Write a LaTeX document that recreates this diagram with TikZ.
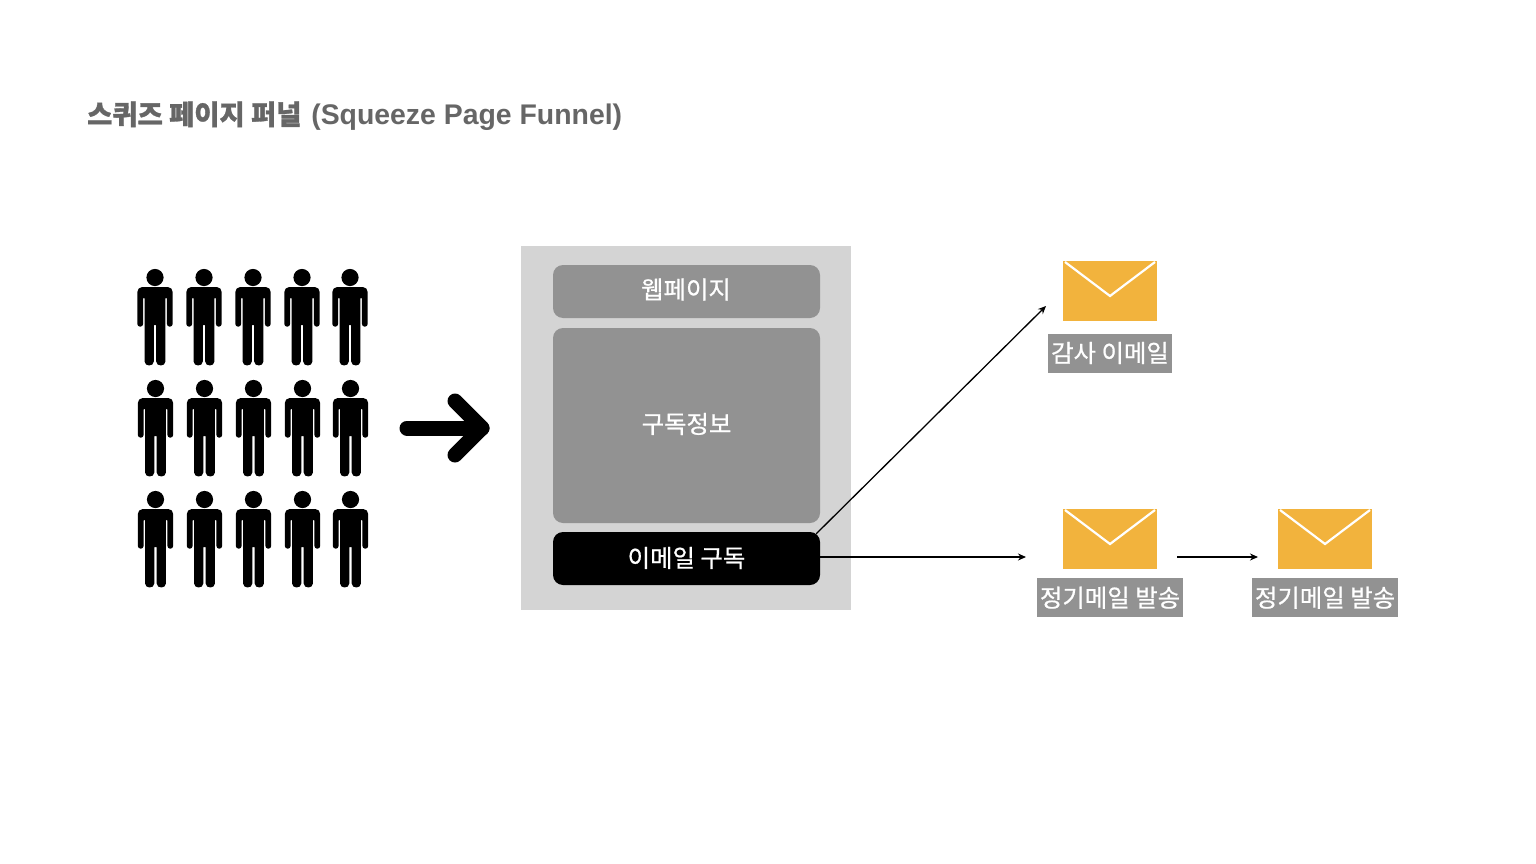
\documentclass[tikz,border=0pt]{standalone}
\usepackage{fontspec}
\setmainfont{Liberation Sans}
\newfontfamily\cjk[FakeBold = 0.7]{Noto Sans CJK KR}
\newfontfamily\cjktitle[FakeBold = 1.1]{Noto Sans CJK KR}
\usetikzlibrary{calc, arrows.meta}

\definecolor{panelgrey}{HTML}{D4D4D4}
\definecolor{boxgrey}{HTML}{929292}
\definecolor{titlegrey}{HTML}{666666}
\definecolor{mailorange}{HTML}{F2B33D}

\tikzset{
	box/.style = {rectangle, rounded corners = 10pt, minimum width = 267pt, inner sep = 0pt},
	boxtext/.style = {text = white, inner sep = 0pt, font = \cjk\fontsize{24.4}{28}\selectfont},
	mail/.style = {rectangle, fill = mailorange, minimum width = 94pt, minimum height = 60pt, inner sep = 0pt,
		path picture = {
			\draw [white, line width = 2.2pt] ($ (path picture bounding box.north west) + (2,1) $) -- ($ (path picture bounding box.north) + (0,35) $) -- ($ (path picture bounding box.north east) + (-2,1) $);
		}},
	caption/.style = {boxtext, rectangle, fill = boxgrey, minimum height = 39pt},
	thin arrow/.style = {-{Stealth[length = 8pt, width = 7pt]}, line width = 1.3pt},
	person/.pic = {
		\fill (0,0) circle [radius = 8.6];
		\fill [rounded corners = 5pt] (-17.7,9.5) -- (17.7,9.5) -- (17.7,28) [rounded corners = 2.8pt] -- (17.7,49.2) -- (11.9,49.2) [rounded corners = 0.5pt] -- (11.9,20.5) -- (10.4,20.5) [sharp corners] -- (10.4,84) .. controls (10.4,89.3) and (1.2,89.3) .. (1.2,84) -- (1.2,47.5) -- (-1.2,47.5) -- (-1.2,84) .. controls (-1.2,89.3) and (-10.4,89.3) .. (-10.4,84) [rounded corners = 0.5pt] -- (-10.4,20.5) -- (-11.9,20.5) [rounded corners = 2.8pt] -- (-11.9,49.2) -- (-17.7,49.2) [rounded corners = 5pt] -- (-17.7,28) -- cycle;
	}
}

\begin{document}
\begin{tikzpicture}[x = 1pt, y = -1pt]
	\useasboundingbox (0,0) rectangle (1536,864);
	
	\node [anchor = west, text = titlegrey, inner sep = 0pt, font = \fontsize{28.4}{32}\selectfont\bfseries] (title) at (87,116) {{\cjktitle\fontsize{27.4}{32}\selectfont 스퀴즈 페이지 퍼널}\hspace{2pt} (Squeeze Page Funnel)};
	
	% crowd
	\foreach \y/\dx in {277.5/0, 388.5/0.5, 499.5/0.5} {
		\foreach \x in {155, 204, 253, 302, 350} {
			\pic at (\x+\dx, \y) {person};
		}
	}
	
	% big arrow
	\coordinate (arrow start) at (407,428);
	\coordinate (arrow tip) at (482,428);
	\draw [line width = 15pt, line cap = round, line join = round] (arrow start) -- (arrow tip);
	\draw [line width = 15pt, line cap = round, line join = round] (455,401) -- (arrow tip) -- (455,455);
	
	% page
	\node [rectangle, fill = panelgrey, minimum width = 330.5pt, minimum height = 363.5pt, inner sep = 0pt] (page) at (686,428.2) {};
	\node [box, fill = boxgrey, minimum height = 53pt] (web) at (686.5,291.5) {};
	\node [box, fill = boxgrey, minimum height = 195pt] (info) at (686.5,425.5) {};
	\node [box, fill = black, minimum height = 53pt] (subscribe) at (686.5,558.5) {};
	\node [boxtext] (web text) at (686,289.5) {웹페이지};
	\node [boxtext] (info text) at (686.5,424) {구독정보};
	\node [boxtext] (subscribe text) at (686.5,558) {이메일 구독};
	
	% mails
	\node [mail] (thanks) at (1110,291) {};
	\node [mail] (regular) at (1110,539) {};
	\node [mail] (next) at (1325,539) {};
	
	\node [caption, minimum width = 124pt] (thanks caption) at (1110,353) {감사 이메일};
	\node [caption, minimum width = 146pt] (regular caption) at (1110,597.7) {정기메일 발송};
	\node [caption, minimum width = 146pt] (next caption) at (1325,597.7) {정기메일 발송};
	
	% connectors
	\coordinate (thanks in) at (1046,306);
	\coordinate (regular in) at (1026,557);
	\coordinate (regular out) at (1177,557);
	\coordinate (next in) at (1258,557);
	
	\draw [thin arrow] ($ (subscribe.north east) + (-4,2) $) -- (thanks in);
	\draw [thin arrow] (subscribe.east |- regular in) -- (regular in);
	\draw [thin arrow] (regular out) -- (next in);
\end{tikzpicture}
\end{document}
